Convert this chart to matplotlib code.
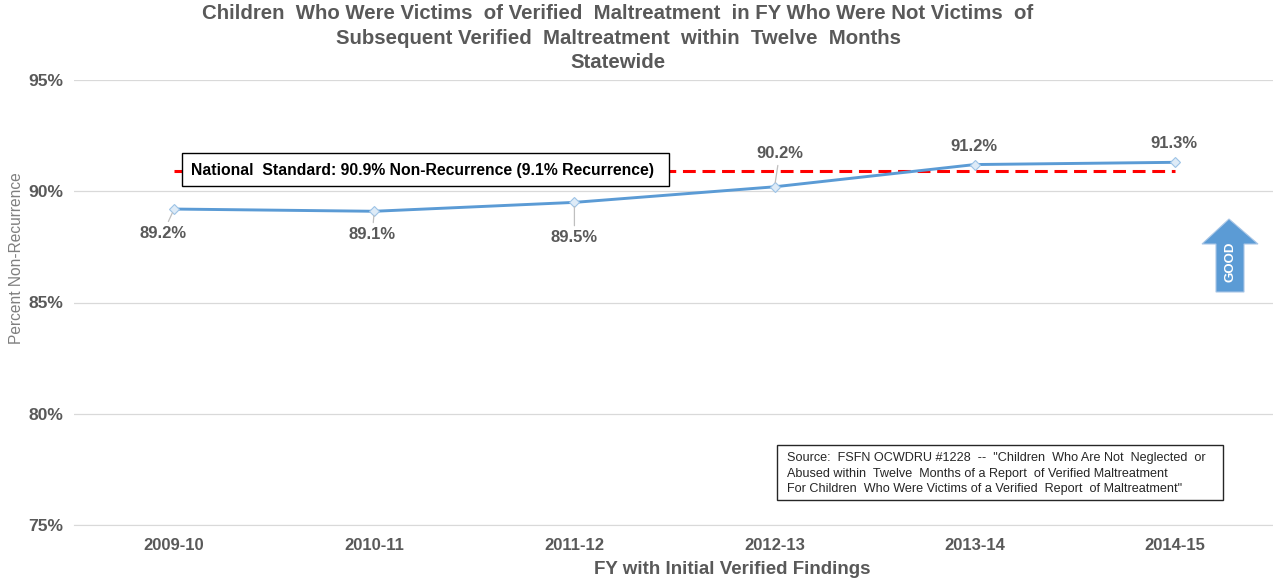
import matplotlib
matplotlib.use("Agg")
import matplotlib.pyplot as plt
from matplotlib.patches import Polygon, Rectangle
from matplotlib.transforms import Affine2D

years = ["2009-10", "2010-11", "2011-12", "2012-13", "2013-14", "2014-15"]
non_recurrence = [89.2, 89.1, 89.5, 90.2, 91.2, 91.3]
national_standard = [90.9, 90.9, 90.9, 90.9, 90.9, 90.9]
y_ticks = [75, 80, 85, 90, 95]
value_labels = ["89.2%", "89.1%", "89.5%", "90.2%", "91.2%", "91.3%"]

W, H = 1273, 582
GREY = "#595959"
BLUE = "#5B9BD5"

plt.rcParams["font.family"] = ["Liberation Sans", "DejaVu Sans"]

fig = plt.figure(figsize=(W / 100, H / 100), dpi=100)
ax = fig.add_axes([74 / W, 1 - 525 / H, (1275 - 74) / W, (525 - 80) / H])
ax.set_xlim(-0.5, 5.5)
ax.set_ylim(75, 95)

ax.plot(range(6), national_standard, color="#FF0000", lw=2.2, ls=(0, (4.2, 2.2)), zorder=2)
ax.plot(range(6), non_recurrence, color=BLUE, lw=2.1, zorder=3,
        marker="D", ms=5, mfc="#DEEBF7", mec="#9DC3E6", mew=0.8)

ax.set_yticks(y_ticks)
ax.set_yticklabels([f"{t}%" for t in y_ticks], fontsize=12.6, fontweight="bold", color=GREY)
ax.set_xticks(range(6))
ax.set_xticklabels(years, fontsize=12, fontweight="bold", color=GREY)
ax.tick_params(axis="y", length=0, pad=7.5)
ax.tick_params(axis="x", length=0, pad=9.5)
ax.grid(axis="y", color="#D9D9D9", lw=0.9)
ax.set_axisbelow(True)
for s in ["top", "right", "left"]:
    ax.spines[s].set_visible(False)
ax.spines["bottom"].set_color("#D9D9D9")

# labels sit off the points, some with a small leader line (pixel offsets)
offsets = [(-11, -24), (-2, -23), (0, -35), (5, 33), (-1, 18), (-1, 19)]
leaders = [True, True, True, True, False, False]
for i in range(6):
    ax.annotate(value_labels[i], (i, non_recurrence[i]), xytext=offsets[i],
                textcoords="offset pixels", ha="center", va="center",
                fontsize=12, fontweight="bold", color=GREY, zorder=5,
                arrowprops=dict(arrowstyle="-", color="#BFBFBF", lw=0.9, shrinkA=1, shrinkB=3) if leaders[i] else None)

fig.text(618 / W, 1 - 38 / H,
         "Children  Who Were Victims  of Verified  Maltreatment  in FY Who Were Not Victims  of\n"
         "Subsequent Verified  Maltreatment  within  Twelve  Months\nStatewide",
         ha="center", va="center", fontsize=14.7, fontweight="bold", color=GREY, linespacing=1.38)
fig.text(732 / W, 1 - 570 / H, "FY with Initial Verified Findings",
         ha="center", va="center", fontsize=13.5, fontweight="bold", color=GREY)
fig.text(17 / W, 1 - 258 / H, "Percent Non-Recurrence", rotation=90,
         ha="center", va="center", fontsize=11.2, color="#7F7F7F")

# overlays placed in image pixels, y measured from the top
px = Affine2D().scale(1, -1).translate(0, H)
fig.add_artist(Rectangle((182, 153), 487, 33, transform=px, fc="white", ec="black", lw=1.0, zorder=6))
fig.text(191 / W, 1 - 170 / H, "National  Standard: 90.9% Non-Recurrence (9.1% Recurrence)",
         ha="left", va="center", fontsize=11.3, fontweight="bold", color="black", zorder=7)

fig.add_artist(Rectangle((777, 445), 446, 55, transform=px, fc="white", ec="#262626", lw=1.0, zorder=6))
fig.text(787 / W, 1 - 473.5 / H,
         "Source:  FSFN OCWDRU #1228  --  \"Children  Who Are Not  Neglected  or\n"
         "Abused within  Twelve  Months of a Report  of Verified Maltreatment\n"
         "For Children  Who Were Victims of a Verified  Report  of Maltreatment\"",
         ha="left", va="center", fontsize=9.05, color="#262626", linespacing=1.35, zorder=7)

arrow = [(1229, 219), (1258, 244), (1244, 244), (1244, 292), (1216, 292), (1216, 244), (1202, 244)]
fig.add_artist(Polygon(arrow, closed=True, transform=px, fc=BLUE, ec="#A9C6E6", lw=0.8, zorder=6))
fig.text(1230 / W, 1 - 262 / H, "GOOD", rotation=90, ha="center", va="center",
         fontsize=9.5, fontweight="bold", color="white", zorder=7)

fig.savefig("out.png", dpi=100)
plt.close(fig)
